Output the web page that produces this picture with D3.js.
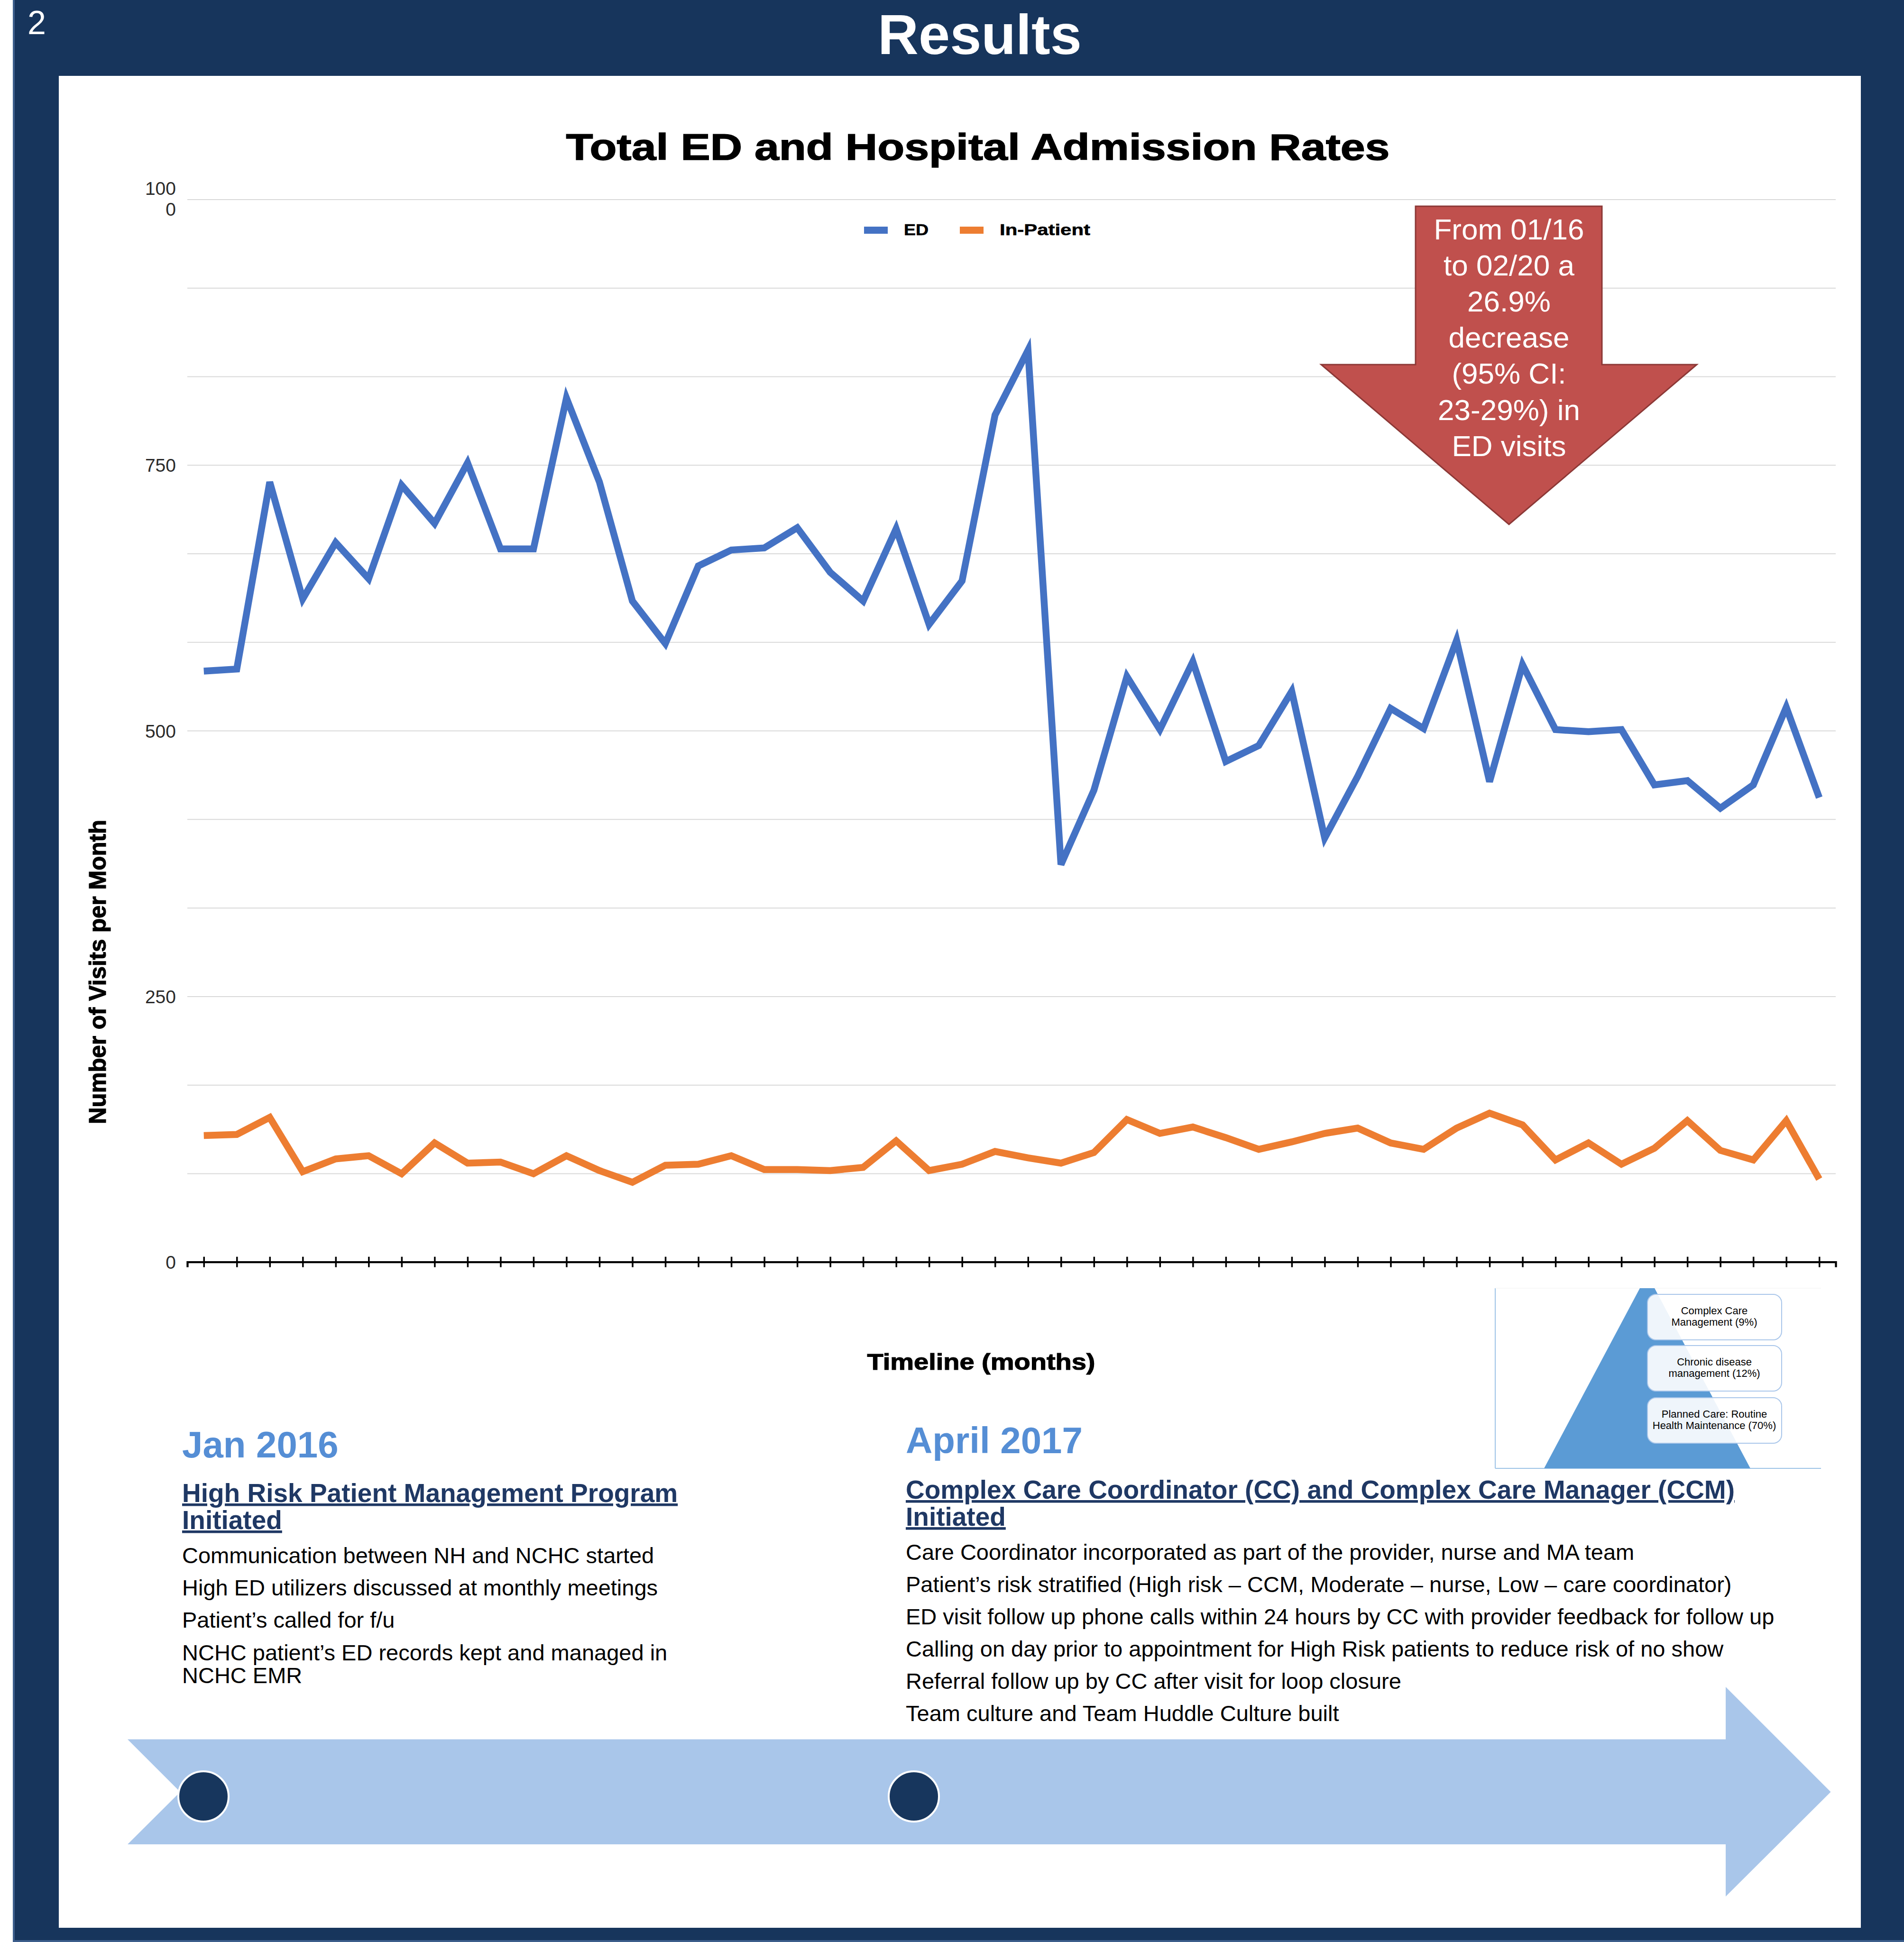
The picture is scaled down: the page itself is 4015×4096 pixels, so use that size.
<!DOCTYPE html>
<html>
<head>
<meta charset="utf-8">
<script src="https://cdn.jsdelivr.net/npm/d3@7/dist/d3.min.js"></script>
<style>
  html, body { margin: 0; padding: 0; background: #fff; }
  svg { display: block; }
  text { font-family: "Liberation Sans", Arial, sans-serif; }
</style>
</head>
<body>
<svg id="page"></svg>
<script>
'use strict';

const pageWidth = 4015;
const pageHeight = 4096;

// months on the x axis, Jan 2016 .. Feb 2020
const months = [
    '2016-01', '2016-02', '2016-03', '2016-04', '2016-05', '2016-06', '2016-07', '2016-08', '2016-09', '2016-10', '2016-11', '2016-12',
    '2017-01', '2017-02', '2017-03', '2017-04', '2017-05', '2017-06', '2017-07', '2017-08', '2017-09', '2017-10', '2017-11', '2017-12',
    '2018-01', '2018-02', '2018-03', '2018-04', '2018-05', '2018-06', '2018-07', '2018-08', '2018-09', '2018-10', '2018-11', '2018-12',
    '2019-01', '2019-02', '2019-03', '2019-04', '2019-05', '2019-06', '2019-07', '2019-08', '2019-09', '2019-10', '2019-11', '2019-12',
    '2020-01', '2020-02'
];

const edVisits = [
    556, 558, 734, 624, 677, 643, 731, 695, 752, 671, 671, 813,
    734, 622, 582, 655, 670, 672, 691, 649, 622, 690, 600, 641,
    797, 858, 374, 444, 551, 501, 565, 471, 486, 537, 399, 457,
    521, 502, 585, 452, 562, 501, 499, 501, 449, 453, 427, 449,
    522, 437
];

const inPatient = [
    119, 120, 136, 85, 97, 100, 83, 112, 93, 94, 83, 100,
    86, 75, 91, 92, 100, 87, 87, 86, 89, 114, 86, 92,
    104, 98, 93, 103, 134, 121, 127, 117, 106, 113, 121, 126,
    112, 106, 126, 140, 129, 96, 112, 92, 107, 133, 105, 96,
    133, 78
];

const seriesNames = ['ED', 'In-Patient'];
const seriesColors = ['#4472c4', '#ed7d31'];

const yTicks = [0, 250, 500, 750, 1000];
const yTickLabels = [['0'], ['250'], ['500'], ['750'], ['100', '0']];
const yMax = 1000;
const gridStep = 1000 / 12;

const calloutLines = ['From 01/16', 'to 02/20 a', '26.9%', 'decrease', '(95% CI:', '23-29%) in', 'ED visits'];

const pyramidLevels = [
    ['Complex Care', 'Management (9%)'],
    ['Chronic disease', 'management (12%)'],
    ['Planned Care: Routine', 'Health Maintenance (70%)']
];

const leftDate = 'Jan 2016';
const leftHeading = ['High Risk Patient Management Program', 'Initiated'];
const leftItems = [
    'Communication between NH and NCHC started',
    'High ED utilizers discussed at monthly meetings',
    'Patient\u2019s called for f/u',
    'NCHC patient\u2019s ED records kept and managed in',
    'NCHC EMR'
];

const rightDate = 'April 2017';
const rightHeading = ['Complex Care Coordinator (CC) and Complex Care Manager (CCM)', 'Initiated'];
const rightItems = [
    'Care Coordinator incorporated as part of the provider, nurse and MA team',
    'Patient\u2019s risk stratified (High risk \u2013 CCM, Moderate \u2013 nurse, Low \u2013 care coordinator)',
    'ED visit follow up phone calls within 24 hours by CC with provider feedback for follow up',
    'Calling on day prior to appointment for High Risk patients to reduce risk of no show',
    'Referral follow up by CC after visit for loop closure',
    'Team culture and Team Huddle Culture built'
];

const navy = '#17355c';
const plot = {left: 395, right: 3871, top: 420.5, bottom: 2661.7};

const svg = d3.select('#page')
    .attr('width', pageWidth)
    .attr('height', pageHeight);

function renderFrame() {
    svg.append('rect').attr('x', 0).attr('y', 0).attr('width', pageWidth).attr('height', pageHeight).attr('fill', '#fff');
    svg.append('rect').attr('x', 27).attr('y', 0).attr('width', pageWidth - 27).attr('height', pageHeight).attr('fill', '#3d5f8c');
    svg.append('rect').attr('x', 31).attr('y', 0).attr('width', pageWidth - 31).attr('height', 4092).attr('fill', navy);
    svg.append('rect').attr('x', 124).attr('y', 160).attr('width', 3924 - 124).attr('height', 4066 - 160).attr('fill', '#fff');

    svg.append('text').attr('x', 58).attr('y', 72).attr('font-size', 70).attr('fill', '#fff').text('2');
    svg.append('text').attr('x', 2066).attr('y', 114).attr('font-size', 119).attr('font-weight', 'bold')
        .attr('text-anchor', 'middle').attr('fill', '#fff').text('Results');
}

function renderChart() {
    const x = d3.scalePoint().domain(months).range([plot.left, plot.right]).padding(0.5);
    const y = d3.scaleLinear().domain([0, yMax]).range([plot.bottom, plot.top]);

    const g = svg.append('g');

    // gridlines
    g.append('g')
        .attr('transform', `translate(${plot.left},0)`)
        .call(d3.axisLeft(y).tickValues(d3.range(gridStep, yMax + 1, gridStep)).tickSize(-(plot.right - plot.left)).tickFormat(''))
        .call(a => a.select('.domain').remove())
        .call(a => a.selectAll('.tick line').attr('stroke', '#d9d9d9').attr('stroke-width', 2));

    // y labels
    g.append('g')
        .attr('transform', `translate(${plot.left},0)`)
        .call(d3.axisLeft(y).tickValues(yTicks).tickSize(0).tickPadding(24).tickFormat(''))
        .call(a => a.select('.domain').remove())
        .call(a => a.selectAll('.tick text').each(function (d) {
            const lines = yTickLabels[yTicks.indexOf(d)];
            const t = d3.select(this)
                .attr('font-family', '"DejaVu Sans", Verdana, sans-serif')
                .attr('font-size', 39)
                .attr('fill', '#2b2b2b')
                .attr('dy', null);
            lines.forEach((line, i) => {
                t.append('tspan')
                    .attr('x', -24)
                    .attr('dy', i === 0 ? (lines.length > 1 ? '-0.25em' : '0.36em') : '1.11em')
                    .text(line);
            });
        }));

    // x axis with crossing ticks
    g.append('g')
        .attr('transform', `translate(0,${plot.bottom})`)
        .call(d3.axisBottom(x).tickSizeOuter(0).tickSize(11).tickFormat(''))
        .call(a => a.select('.domain').attr('stroke', '#000').attr('stroke-width', 4.3))
        .call(a => a.selectAll('.tick line').attr('y1', -11).attr('y2', 11).attr('stroke', '#000').attr('stroke-width', 3.5));

    const line = d3.line()
        .x((d, i) => x(months[i]))
        .y(d => y(d));

    [edVisits, inPatient].forEach((values, i) => {
        g.append('path')
            .datum(values)
            .attr('d', line)
            .attr('fill', 'none')
            .attr('stroke', seriesColors[i])
            .attr('stroke-width', 14.5)
            .attr('stroke-linejoin', 'miter');
    });

    // titles
    g.append('text')
        .attr('x', 2062).attr('y', 337)
        .attr('text-anchor', 'middle')
        .attr('font-family', '"DejaVu Sans", sans-serif')
        .attr('font-weight', 'bold')
        .attr('font-size', 78)
        .attr('stroke', '#000').attr('stroke-width', 1.5)
        .attr('textLength', 1737).attr('lengthAdjust', 'spacingAndGlyphs')
        .text('Total ED and Hospital Admission Rates');

    g.append('text')
        .attr('transform', 'translate(223,2050) rotate(-90)')
        .attr('text-anchor', 'middle')
        .attr('font-weight', 'bold')
        .attr('font-size', 50)
        .attr('stroke', '#000').attr('stroke-width', 1.2)
        .attr('textLength', 642).attr('lengthAdjust', 'spacingAndGlyphs')
        .text('Number of Visits per Month');

    g.append('text')
        .attr('x', 2069).attr('y', 2889)
        .attr('text-anchor', 'middle')
        .attr('font-weight', 'bold')
        .attr('font-size', 48)
        .attr('stroke', '#000').attr('stroke-width', 1.2)
        .attr('textLength', 481).attr('lengthAdjust', 'spacingAndGlyphs')
        .text('Timeline (months)');

    // legend
    const legendX = [1822, 2024];
    const legendTextWidth = [52, 191];
    const legend = g.append('g');
    seriesNames.forEach((name, i) => {
        legend.append('line')
            .attr('x1', legendX[i]).attr('x2', legendX[i] + 50)
            .attr('y1', 485.5).attr('y2', 485.5)
            .attr('stroke', seriesColors[i]).attr('stroke-width', 15);
        legend.append('text')
            .attr('x', legendX[i] + 84).attr('y', 496)
            .attr('font-family', '"DejaVu Sans", sans-serif')
            .attr('font-weight', 'bold')
            .attr('font-size', 33)
            .attr('stroke', '#000').attr('stroke-width', 0.6)
            .attr('textLength', legendTextWidth[i]).attr('lengthAdjust', 'spacingAndGlyphs')
            .text(name);
    });
}

function renderCallout() {
    const pts = [[2985, 435], [3378, 435], [3378, 769], [3578, 769], [3182, 1106], [2786, 769], [2985, 769]];
    svg.append('polygon')
        .attr('points', pts.map(p => p.join(',')).join(' '))
        .attr('fill', '#c0504d')
        .attr('stroke', '#8c3836')
        .attr('stroke-width', 3);

    svg.append('g').selectAll('text')
        .data(calloutLines)
        .join('text')
        .attr('x', 3182)
        .attr('y', (d, i) => 505 + i * 76.1)
        .attr('text-anchor', 'middle')
        .attr('font-size', 62)
        .attr('fill', '#fff')
        .text(d => d);
}

function renderPyramid() {
    const g = svg.append('g');
    g.append('line').attr('x1', 3153).attr('x2', 3153).attr('y1', 2717).attr('y2', 3097).attr('stroke', '#9dc3e6').attr('stroke-width', 2);
    g.append('line').attr('x1', 3153).attr('x2', 3840).attr('y1', 3097).attr('y2', 3097).attr('stroke', '#9dc3e6').attr('stroke-width', 2);
    g.append('line').attr('x1', 3153).attr('x2', 3840).attr('y1', 2717).attr('y2', 2717).attr('stroke', '#f2f2f2').attr('stroke-width', 1);

    g.append('polygon')
        .attr('points', '3458,2717 3489,2717 3691,3097 3256,3097')
        .attr('fill', '#5b9bd5');

    const boxTops = [2730, 2838, 2948];
    const boxH = 96;
    pyramidLevels.forEach((lines, i) => {
        g.append('rect')
            .attr('x', 3474).attr('y', boxTops[i])
            .attr('width', 283).attr('height', boxH)
            .attr('rx', 18)
            .attr('fill', '#fff').attr('fill-opacity', 0.9)
            .attr('stroke', '#a9c6ea').attr('stroke-width', 2);
        lines.forEach((line, j) => {
            g.append('text')
                .attr('x', 3615)
                .attr('y', boxTops[i] + 42 + j * 24.4)
                .attr('text-anchor', 'middle')
                .attr('font-family', 'Lato, "Open Sans", sans-serif')
                .attr('font-size', 22)
                .attr('fill', '#000')
                .text(line);
        });
    });
}

function renderBlock(x, dateText, dateY, heading, headingY, items, itemY) {
    const g = svg.append('g');
    g.append('text')
        .attr('x', x).attr('y', dateY)
        .attr('font-size', 78).attr('font-weight', 'bold')
        .attr('fill', '#558ed5')
        .text(dateText);

    heading.forEach((line, i) => {
        g.append('text')
            .attr('x', x).attr('y', headingY[i])
            .attr('font-size', 55).attr('font-weight', 'bold')
            .attr('fill', '#1f3864')
            .attr('text-decoration', 'underline')
            .text(line);
    });

    items.forEach((line, i) => {
        g.append('text')
            .attr('x', x).attr('y', itemY[i])
            .attr('font-size', 47)
            .attr('fill', '#000')
            .text(line);
    });
}

function renderTimeline() {
    const g = svg.append('g');
    const pts = [[269, 3668.5], [3639, 3668.5], [3639, 3558], [3860.5, 3779.5], [3639, 4000], [3639, 3890], [269, 3890], [380, 3779.5]];
    g.append('polygon')
        .attr('points', pts.map(p => p.join(',')).join(' '))
        .attr('fill', '#a9c6ea');

    [429, 1927].forEach(cx => {
        g.append('circle')
            .attr('cx', cx).attr('cy', 3789)
            .attr('r', 53)
            .attr('fill', '#17365d')
            .attr('stroke', '#fff').attr('stroke-width', 4);
    });
}

renderFrame();
renderChart();
renderCallout();
renderPyramid();
renderBlock(384, leftDate, 3074, leftHeading, [3168, 3225], leftItems, [3297, 3365, 3433, 3502, 3550]);
renderBlock(1910, rightDate, 3065, rightHeading, [3161, 3218], rightItems, [3290, 3358, 3426, 3494, 3562, 3630]);
renderTimeline();
</script>
</body>
</html>
